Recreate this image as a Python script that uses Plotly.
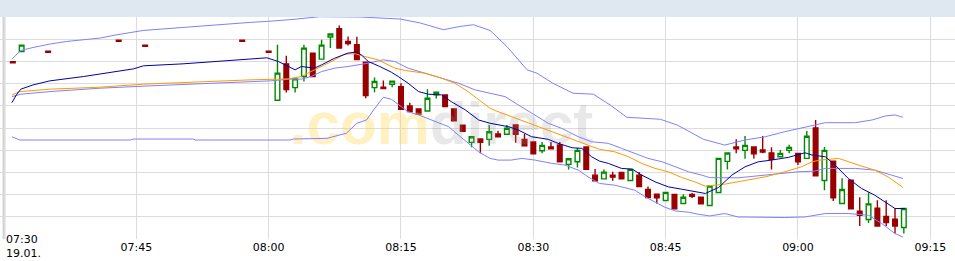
import pandas as pd
import plotly.graph_objects as go

DAY = "2024-01-19"
BASE = pd.Timestamp(f"{DAY} 07:30")

# ---------------- candle data (1-minute bars) ----------------
candle_time = [
    "07:31", "07:32", "07:35", "07:43", "07:46", "07:57", "08:00",
    "08:01", "08:02", "08:03", "08:04", "08:05", "08:06", "08:07", "08:08", "08:09", "08:10",
    "08:11", "08:12", "08:13", "08:14", "08:15", "08:16", "08:17", "08:18", "08:19", "08:20",
    "08:21", "08:22", "08:23", "08:24", "08:25", "08:26", "08:27", "08:28", "08:29", "08:30",
    "08:31", "08:32", "08:33", "08:34", "08:35", "08:36", "08:37", "08:38", "08:39", "08:40",
    "08:41", "08:42", "08:43", "08:44", "08:45", "08:46", "08:47", "08:48", "08:49", "08:50",
    "08:51", "08:52", "08:53", "08:54", "08:55", "08:56", "08:57", "08:58", "08:59", "09:00",
    "09:01", "09:02", "09:03", "09:04", "09:05", "09:06", "09:07", "09:08", "09:09", "09:10",
    "09:11", "09:12",
]
open_ = [
    21.770, 21.873, 21.875, 21.985, 21.935, 21.985, 21.875,
    21.387, 21.750, 21.513, 21.623, 21.857, 21.797, 22.017, 22.100, 21.973, 21.940,
    21.767, 21.513, 21.517, 21.547, 21.523, 21.330, 21.300, 21.280, 21.440, 21.440,
    21.300, 21.137, 20.967, 21.000, 20.997, 21.050, 21.047, 21.140, 20.997, 20.970,
    20.883, 20.920, 20.940, 20.747, 20.773, 20.920, 20.640, 20.603, 20.640, 20.667,
    20.587, 20.640, 20.497, 20.450, 20.387, 20.447, 20.357, 20.447, 20.420, 20.337,
    20.467, 20.777, 20.920, 20.887, 20.920, 20.890, 20.860, 20.823, 20.887, 20.857,
    20.807, 21.110, 20.587, 20.780, 20.357, 20.590, 20.280, 20.197, 20.310, 20.227,
    20.200, 20.117,
]
high = [
    21.770, 21.937, 21.875, 21.985, 21.935, 21.985, 21.875,
    21.940, 21.830, 21.600, 21.940, 21.857, 21.990, 22.047, 22.133, 22.023, 22.020,
    21.767, 21.613, 21.583, 21.577, 21.557, 21.363, 21.300, 21.497, 21.467, 21.440,
    21.300, 21.137, 21.023, 21.000, 21.140, 21.083, 21.140, 21.140, 21.050, 20.970,
    20.970, 20.970, 20.970, 20.803, 20.913, 20.920, 20.700, 20.697, 20.673, 20.667,
    20.697, 20.670, 20.527, 20.450, 20.467, 20.447, 20.450, 20.463, 20.420, 20.530,
    20.807, 20.860, 20.997, 21.030, 20.920, 21.030, 20.917, 20.890, 20.943, 20.857,
    21.080, 21.190, 20.920, 20.780, 20.610, 20.590, 20.420, 20.470, 20.390, 20.390,
    20.307, 20.307,
]
low = [
    21.760, 21.873, 21.865, 21.975, 21.925, 21.975, 21.865,
    21.387, 21.463, 21.463, 21.573, 21.623, 21.797, 21.907, 21.907, 21.933, 21.793,
    21.407, 21.467, 21.503, 21.517, 21.297, 21.273, 21.247, 21.280, 21.403, 21.323,
    21.183, 21.077, 20.917, 20.857, 20.933, 21.023, 21.047, 20.963, 20.933, 20.853,
    20.857, 20.903, 20.773, 20.697, 20.717, 20.697, 20.583, 20.603, 20.583, 20.603,
    20.587, 20.527, 20.417, 20.357, 20.387, 20.303, 20.357, 20.413, 20.353, 20.337,
    20.467, 20.697, 20.857, 20.803, 20.807, 20.857, 20.697, 20.823, 20.857, 20.740,
    20.807, 20.633, 20.490, 20.383, 20.357, 20.303, 20.133, 20.163, 20.133, 20.133,
    20.057, 20.057,
]
close = [
    21.760, 21.937, 21.865, 21.975, 21.925, 21.975, 21.865,
    21.657, 21.493, 21.600, 21.907, 21.623, 21.937, 22.047, 21.907, 21.953, 21.793,
    21.433, 21.573, 21.503, 21.577, 21.297, 21.273, 21.247, 21.407, 21.467, 21.323,
    21.183, 21.077, 21.023, 20.967, 21.073, 21.023, 21.107, 21.047, 20.933, 20.853,
    20.937, 20.903, 20.773, 20.803, 20.887, 20.697, 20.583, 20.670, 20.620, 20.603,
    20.697, 20.527, 20.417, 20.413, 20.467, 20.303, 20.420, 20.430, 20.353, 20.530,
    20.807, 20.860, 20.903, 20.937, 20.853, 20.870, 20.797, 20.857, 20.917, 20.773,
    21.027, 20.633, 20.887, 20.413, 20.497, 20.303, 20.240, 20.353, 20.133, 20.167,
    20.133, 20.307,
]

# ---------------- indicator lines (minutes after 07:30, value) ----------------
bb_upper_min = [0.9, 1.9, 3.3, 5.2, 7.1, 10.9, 12.8, 15.8, 20.3, 24.1, 27.9, 29.8, 32.4, 35.8,
                40.4, 44.9, 47.2, 49.8, 51.7, 53.2, 55.1, 57.0, 59.3, 60.4, 62.2, 64.5, 66.8,
                68.7, 70.6, 74.4, 76.3, 79.3, 81.7, 84.0, 86.3, 88.5, 90.8, 93.1, 96.5, 98.4,
                99.9, 101.0, 101.9]
bb_upper = [21.797, 21.883, 21.913, 21.947, 21.973, 22.007, 22.040, 22.083, 22.113, 22.140,
            22.163, 22.173, 22.190, 22.220, 22.217, 22.197, 22.157, 22.090, 22.123, 22.140,
            22.083, 21.923, 21.690, 21.657, 21.557, 21.457, 21.447, 21.340, 21.217, 21.197,
            21.140, 20.997, 20.940, 20.990, 21.023, 21.073, 21.117, 21.163, 21.163, 21.190,
            21.230, 21.240, 21.217]

bb_mid_min = [0.9, 1.9, 5.2, 10.9, 16.5, 22.2, 27.9, 30.2, 32.4, 33.7, 34.8, 36.0, 37.5, 39.0,
              41.3, 43.0, 44.3, 45.8, 47.7, 49.6, 51.5, 53.4, 55.1, 56.8, 58.3, 59.8, 61.7,
              63.2, 65.1, 66.6, 68.5, 70.0, 71.5, 73.0, 74.6, 76.1, 77.6, 79.1, 80.0, 83.2,
              87.0, 90.0, 91.9, 93.1, 96.5, 98.7, 100.6, 101.9]
bb_mid = [21.423, 21.447, 21.473, 21.507, 21.530, 21.550, 21.573, 21.580, 21.597, 21.597,
          21.623, 21.673, 21.707, 21.723, 21.757, 21.790, 21.773, 21.707, 21.657, 21.607,
          21.557, 21.490, 21.457, 21.423, 21.340, 21.257, 21.157, 21.107, 21.023, 20.973,
          20.957, 20.907, 20.857, 20.807, 20.773, 20.723, 20.673, 20.640, 20.615, 20.613,
          20.650, 20.673, 20.680, 20.707, 20.707, 20.690, 20.640, 20.607]

bb_lower_min = [0.9, 1.25, 1.8, 14.3, 14.7, 21.5, 21.7, 32.4, 32.8, 36.6, 38.8, 40.0, 41.1,
                41.9, 43.0, 43.9, 45.1, 45.8, 47.0, 48.5, 50.4, 51.5, 52.6, 53.8, 55.1, 56.0,
                57.5, 58.7, 60.2, 62.1, 63.6, 65.1, 66.2, 67.5, 69.2, 71.5, 72.7, 73.8, 74.9,
                76.1, 77.6, 78.7, 80.0, 81.7, 83.2, 88.5, 90.8, 93.1, 95.7, 98.0, 99.5, 101.0,
                101.9]
bb_lower = [21.023, 21.007, 20.990, 20.990, 21.000, 21.000, 20.990, 20.990, 21.000, 21.007,
            21.057, 21.157, 21.190, 21.290, 21.417, 21.397, 21.323, 21.273, 21.240, 21.190,
            21.123, 21.040, 20.957, 20.873, 20.807, 20.790, 20.790, 20.807, 20.790, 20.757,
            20.740, 20.690, 20.623, 20.557, 20.540, 20.490, 20.423, 20.373, 20.320, 20.283,
            20.270, 20.250, 20.233, 20.257, 20.223, 20.217, 20.223, 20.257, 20.257, 20.240,
            20.157, 20.057, 20.023]

ma_fast_min = [0.9, 1.4, 1.9, 3.3, 5.2, 9.0, 14.7, 15.8, 20.3, 24.1, 27.9, 29.8, 31.1, 32.2,
               33.0, 33.7, 35.2, 36.0, 37.5, 39.0, 39.9, 40.5, 41.3, 42.6, 43.9, 44.7, 45.8,
               47.0, 48.1, 49.6, 50.7, 52.3, 53.8, 55.1, 57.2, 58.3, 59.8, 61.7, 62.8, 64.4,
               65.5, 66.6, 67.5, 68.5, 70.0, 71.2, 72.3, 73.8, 75.3, 76.8, 78.3, 79.5, 81.0,
               82.5, 84.0, 85.5, 87.0, 88.9, 90.8, 91.6, 93.1, 94.2, 95.7, 97.2, 98.7, 100.2,
               101.0, 102.1]
ma_fast = [21.363, 21.440, 21.497, 21.540, 21.580, 21.623, 21.700, 21.730, 21.750, 21.773,
           21.797, 21.810, 21.773, 21.723, 21.690, 21.723, 21.707, 21.740, 21.807, 21.857,
           21.867, 21.840, 21.773, 21.723, 21.667, 21.623, 21.557, 21.473, 21.447, 21.440,
           21.373, 21.290, 21.190, 21.157, 21.123, 21.090, 21.023, 20.997, 20.957, 20.913,
           20.907, 20.823, 20.780, 20.757, 20.707, 20.700, 20.640, 20.573, 20.523, 20.500,
           20.473, 20.457, 20.517, 20.640, 20.723, 20.773, 20.790, 20.817, 20.863, 20.840,
           20.823, 20.740, 20.607, 20.507, 20.440, 20.357, 20.307, 20.307]

ma_slow_min = [0.9, 1.8, 5.2, 10.9, 15.8, 22.2, 27.9, 32.2, 33.7, 34.8, 36.0, 37.5, 38.6, 39.8,
               40.9, 42.4, 44.3, 45.5, 47.7, 49.6, 51.1, 52.6, 54.1, 55.1, 56.0, 57.5, 59.1,
               60.6, 62.1, 63.6, 65.1, 66.6, 67.5, 69.2, 70.8, 72.3, 73.8, 75.3, 76.8, 78.3,
               79.5, 81.7, 84.0, 86.3, 88.5, 90.4, 91.6, 92.5, 94.6, 95.7, 97.2, 98.7, 100.2,
               101.9]
ma_slow = [21.440, 21.473, 21.497, 21.517, 21.547, 21.573, 21.590, 21.600, 21.623, 21.673,
           21.723, 21.790, 21.847, 21.850, 21.823, 21.790, 21.707, 21.683, 21.657, 21.607,
           21.557, 21.473, 21.373, 21.307, 21.273, 21.223, 21.173, 21.123, 21.073, 21.023,
           20.973, 20.923, 20.897, 20.873, 20.823, 20.757, 20.707, 20.673, 20.617, 20.573,
           20.530, 20.550, 20.590, 20.623, 20.673, 20.723, 20.773, 20.790, 20.807, 20.773,
           20.730, 20.690, 20.623, 20.517]

tick_labels = ["07:30", "07:45", "08:00", "08:15", "08:30", "08:45", "09:00", "09:15"]
date_label = "19.01."
watermark_parts = [".com", "direct"]

# ---------------- build ----------------
def t_clock(s):
    return pd.Timestamp(f"{DAY} {s}")

def t_min(m):
    return BASE + pd.Timedelta(minutes=m)

cx = [t_clock(s) for s in candle_time]

fig = go.Figure()

# watermark (behind everything)
fig.add_trace(go.Scatter(
    x=[t_min(49.6)], y=[21.105], mode="text",
    text=[f"<b><span style='color:rgba(255,214,80,0.35)'>{watermark_parts[0]}</span>"
          f"<span style='color:rgba(150,150,150,0.22)'>{watermark_parts[1]}</span></b>"],
    textfont=dict(family="Liberation Sans, Arial", size=60),
    textposition="middle center", hoverinfo="skip", showlegend=False))

BB_COL = "#8080ff"
for xs, ys, col in [
    (bb_upper_min, bb_upper, BB_COL),
    (bb_lower_min, bb_lower, BB_COL),
    (bb_mid_min, bb_mid, BB_COL),
    (ma_slow_min, ma_slow, "#ff9900"),
    (ma_fast_min, ma_fast, "#0000a8"),
]:
    fig.add_trace(go.Scatter(x=[t_min(m) for m in xs], y=ys, mode="lines",
                             line=dict(color=col, width=1), hoverinfo="skip",
                             showlegend=False))

fig.add_trace(go.Candlestick(
    x=cx, open=open_, high=high, low=low, close=close,
    increasing=dict(line=dict(color="#008a00", width=1.4), fillcolor="#ffffff"),
    decreasing=dict(line=dict(color="#990000", width=1.4), fillcolor="#990000"),
    whiskerwidth=0, showlegend=False))

W, H = 955, 261
TOP, BOT = 17, 22
plot_h = H - TOP - BOT
y0, y1 = 20.003, 22.217

tickvals = [t_clock(s) for s in tick_labels]
ticktext = [""] + tick_labels[1:]

fig.update_layout(
    width=W, height=H,
    margin=dict(l=0, r=0, t=TOP, b=BOT, pad=0),
    paper_bgcolor="white", plot_bgcolor="white",
    boxgap=0.25,
    showlegend=False,
    font=dict(family="DejaVu Sans", size=11, color="black"),
    xaxis=dict(
        type="date",
        range=[BASE - pd.Timedelta(seconds=27.2), BASE + pd.Timedelta(minutes=107.8)],
        tickvals=tickvals, ticktext=ticktext,
        showgrid=True, gridcolor="#dcdcdc", gridwidth=1,
        zeroline=False, showline=False, ticks="",
        rangeslider=dict(visible=False),
        tickfont=dict(family="DejaVu Sans", size=11, color="black"),
        fixedrange=True,
    ),
    yaxis=dict(
        range=[y0, y1], tick0=y0, dtick=(y1 - y0) / 10,
        showgrid=True, gridcolor="#dcdcdc", gridwidth=1,
        zeroline=False, showline=False, showticklabels=False, ticks="",
        fixedrange=True,
    ),
    shapes=[
        dict(type="rect", xref="paper", yref="paper", x0=0, x1=1,
             y0=1, y1=1 + TOP / plot_h, fillcolor="#dfe7f0", line=dict(width=0),
             layer="above"),
        dict(type="line", xref="x", yref="paper", x0=BASE, x1=BASE, y0=0, y1=1,
             line=dict(color="#d4d4d4", width=3), layer="below"),
    ],
    annotations=[
        dict(text=f"{tick_labels[0]}<br>{date_label}", xref="paper", yref="paper",
             x=5 / W, xanchor="left", align="left",
             y=-BOT / plot_h, yanchor="bottom", showarrow=False, borderpad=0,
             font=dict(family="DejaVu Sans", size=11, color="black")),
    ],
)

fig.write_html("out.html")
